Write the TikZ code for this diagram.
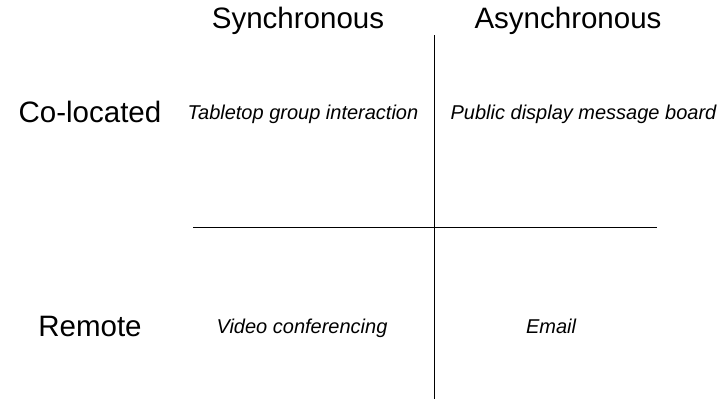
\documentclass[tikz,border=0pt]{standalone}
\usepackage{fontspec}
\setmainfont{Liberation Sans}
\usepackage{tikz}

\begin{document}
\begin{tikzpicture}[x=1pt, y=-1pt,
        head/.style={font=\fontsize{29.5}{31}\selectfont, anchor=base},
        cell/.style={font=\fontsize{20}{22}\selectfont\itshape, anchor=base},
        axis/.style={line width=1pt}]
        \useasboundingbox (0,0) rectangle (720,399);

        % Define ends of the two axes
        \coordinate (V_top) at (434.5,35);
        \coordinate (V_bot) at (434.5,399);
        \coordinate (H_left) at (193,227);
        \coordinate (H_right) at (657,227);

        % Column and row headings
        \node[head] (sync) at (298,28) {Synchronous};
        \node[head] (async) at (568,28) {Asynchronous};
        \node[head] (coloc) at (90,122) {Co-located};
        \node[head] (remote) at (90,336) {Remote};

        % Examples in each quadrant
        \node[cell] (tabletop) at (303,119) {Tabletop group interaction};
        \node[cell] (display) at (583.5,119) {Public display message board};
        \node[cell] (video) at (302,333) {Video conferencing};
        \node[cell] (email) at (551,333) {Email};

        % Draw axes
        \draw[axis] (V_top) -- (V_bot);
        \draw[axis] (H_left) -- (H_right);

    \end{tikzpicture}
\end{document}
